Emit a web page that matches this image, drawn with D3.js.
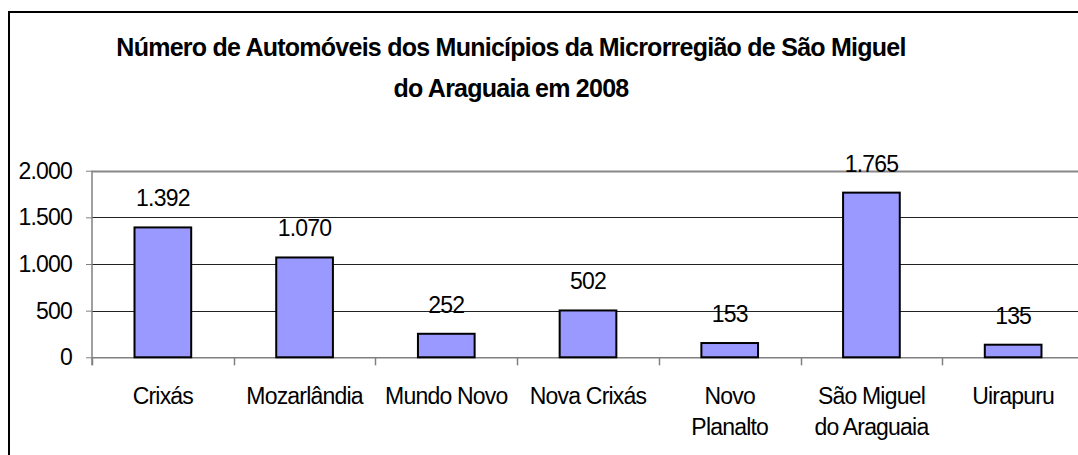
<!DOCTYPE html>
<html>
<head>
<meta charset="utf-8"/>
<title>Número de Automóveis</title>
<script src="https://cdn.jsdelivr.net/npm/d3@7"></script>
<style>
  body { margin: 0; background: #fff; }
  text { font-family: "Liberation Sans", Arial, sans-serif; fill: #000; }
</style>
</head>
<body>
<div id="chart"></div>
<script>
    var categories = [
        "Crixás",
        "Mozarlândia",
        "Mundo Novo",
        "Nova Crixás",
        "Novo\nPlanalto",
        "São Miguel\ndo Araguaia",
        "Uirapuru"
    ];
    var automoveis = [1392, 1070, 252, 502, 153, 1765, 135];
    var yTicks = [0, 500, 1000, 1500, 2000];
    var titleLines = [
        "Número de Automóveis dos Municípios da Microrregião de São Miguel",
        "do Araguaia em 2008"
    ];

    var W = 1078, H = 455;
    var plot = {left: 92, right: 1084, top: 170.7, bottom: 357.3};

    var data = categories.map(function(c, i) { return {name: c, value: automoveis[i]}; });

    // pt-BR number format: 1.392
    var fmt = function(v) { return d3.format(",")(v).replace(/,/g, "."); };

    var svg = d3.select("#chart")
        .append("svg")
        .attr("width", W)
        .attr("height", H);

    // chart border (cropped on right / bottom)
    svg.append("rect")
        .attr("x", 9).attr("y", 12)
        .attr("width", 1200).attr("height", 600)
        .attr("fill", "none")
        .attr("stroke", "#000")
        .attr("stroke-width", 2);

    // title
    svg.append("g").selectAll("text")
        .data(titleLines)
        .enter()
        .append("text")
        .attr("x", 511)
        .attr("y", function(d, i) { return 56 + i * 41; })
        .attr("text-anchor", "middle")
        .style("font-size", "25px")
        .style("font-weight", "bold")
        .style("letter-spacing", "-0.75px")
        .text(function(d) { return d; });

    var x = d3.scaleBand()
        .domain(categories)
        .range([plot.left, plot.right])
        .paddingInner(0.6)
        .paddingOuter(0.3);

    var y = d3.scaleLinear()
        .domain([0, 2000])
        .range([plot.bottom, plot.top]);

    // gridlines
    svg.append("g").selectAll("line")
        .data(yTicks.filter(function(t) { return t > 0; }))
        .enter()
        .append("line")
        .attr("x1", plot.left).attr("x2", plot.right)
        .attr("y1", function(d) { return Math.round(y(d)) + 0.5; })
        .attr("y2", function(d) { return Math.round(y(d)) + 0.5; })
        .attr("stroke", function(d) { return d == 2000 ? "#888" : "#222"; })
        .attr("stroke-width", function(d) { return d == 2000 ? 2 : 1; });

    // y axis
    var yAxis = svg.append("g")
        .attr("transform", "translate(" + plot.left + ",0)")
        .call(d3.axisLeft(y).tickValues(yTicks).tickSize(6).tickPadding(14).tickFormat(fmt));
    yAxis.select(".domain").attr("stroke", "#808080").attr("stroke-width", 1.5)
        .attr("d", "M0," + plot.top + "V" + (plot.bottom + 8));
    yAxis.selectAll(".tick line").attr("stroke", "#808080");
    yAxis.selectAll("text")
        .style("font-size", "23px")
        .style("letter-spacing", "-0.8px")
        .attr("fill", "#000");

    // x axis line + boundary ticks
    var step = x.step();
    var offset = (step - x.bandwidth()) / 2;
    svg.append("line")
        .attr("x1", plot.left).attr("x2", plot.right)
        .attr("y1", plot.bottom + 0.5).attr("y2", plot.bottom + 0.5)
        .attr("stroke", "#808080").attr("stroke-width", 1.5);
    svg.append("g").selectAll("line")
        .data(categories)
        .enter()
        .append("line")
        .attr("x1", function(d) { return Math.round(x(d) - offset) + 0.5; })
        .attr("x2", function(d) { return Math.round(x(d) - offset) + 0.5; })
        .attr("y1", plot.bottom).attr("y2", plot.bottom + 8)
        .attr("stroke", "#808080").attr("stroke-width", 1.5);

    // bars
    svg.append("g").selectAll("rect")
        .data(data)
        .enter()
        .append("rect")
        .attr("x", function(d) { return x(d.name); })
        .attr("y", function(d) { return y(d.value); })
        .attr("width", x.bandwidth())
        .attr("height", function(d) { return plot.bottom - y(d.value); })
        .attr("fill", "#9999FF")
        .attr("stroke", "#000")
        .attr("stroke-width", 2);

    // value labels
    svg.append("g").selectAll("text")
        .data(data)
        .enter()
        .append("text")
        .attr("x", function(d) { return x(d.name) + x.bandwidth() / 2; })
        .attr("y", function(d) { return y(d.value) - 21; })
        .attr("text-anchor", "middle")
        .style("font-size", "23px")
        .style("letter-spacing", "-0.8px")
        .text(function(d) { return fmt(d.value); });

    // category labels (wrapped)
    var lab = svg.append("g").selectAll("text")
        .data(data)
        .enter()
        .append("text")
        .attr("text-anchor", "middle")
        .style("font-size", "23px")
        .style("letter-spacing", "-0.8px");
    lab.selectAll("tspan")
        .data(function(d) {
            return d.name.split("\n").map(function(s) { return {s: s, cx: x(d.name) + x.bandwidth() / 2}; });
        })
        .enter()
        .append("tspan")
        .attr("x", function(d) { return d.cx; })
        .attr("y", function(d, i) { return 404 + i * 31; })
        .text(function(d) { return d.s; });
</script>
</body>
</html>
